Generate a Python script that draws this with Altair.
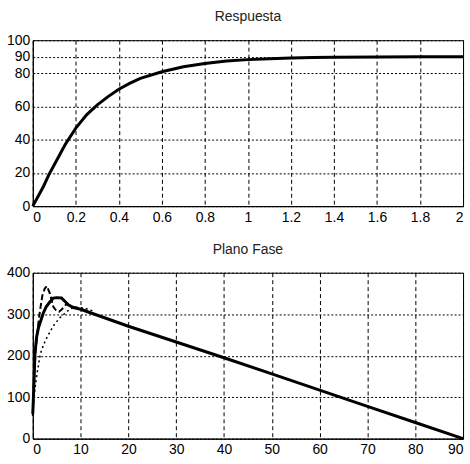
import altair as alt
import pandas as pd

# --- Respuesta (top panel) ---
t_vals = [0, 0.025, 0.05, 0.075, 0.1, 0.15, 0.2, 0.25, 0.3, 0.35, 0.4, 0.45, 0.5,
          0.6, 0.7, 0.8, 0.9, 1.0, 1.1, 1.2, 1.3, 1.4, 1.6, 1.8, 2.0]
resp_vals = [0, 6, 12, 19, 25, 37, 47, 55, 61, 66, 70.5, 74, 77,
             81, 84, 86, 87.5, 88.3, 88.9, 89.3, 89.6, 89.7, 89.9, 90, 90]

# --- Plano Fase (bottom panel) ---
solid_x = [0, 0.2, 0.45, 0.8, 1.2, 1.6, 2.2, 2.8, 3.6, 4.3, 5.0, 6.0, 6.8, 7.5, 8.5,
           10, 20, 30, 40, 50, 60, 70, 80, 90]
solid_y = [60, 120, 205, 245, 268, 282, 303, 318, 330, 339, 340, 339, 330, 322, 316,
           312, 271, 233, 195, 156, 117, 78, 39, 0]

dash_x = [0, 0.3, 0.6, 1.0, 1.5, 2.0, 2.5, 2.95, 3.6, 4.3, 5.0, 5.5, 6.1, 7.0, 7.6, 8.5, 10, 12]
dash_y = [55, 150, 215, 262, 308, 345, 362, 368, 349, 318, 307, 306, 312, 324, 322, 318, 313, 305]

dot_x = [0, 0.2, 0.5, 1.0, 1.6, 2.2, 3.0, 4.3, 5.7, 7.1, 8.0, 9.0, 10, 11, 12, 13]
dot_y = [65, 95, 125, 165, 205, 225, 245, 272, 292, 306, 314, 316, 316, 314, 310, 306]

FONT = "Liberation Sans"

resp_df = pd.DataFrame({"t": t_vals, "y": resp_vals})

top = alt.Chart(resp_df, title=alt.Title("Respuesta", fontSize=14, fontWeight="normal",
                                         font=FONT, color="#222222", offset=9)).mark_line(
    color="black", strokeWidth=3
).encode(
    x=alt.X("t:Q", scale=alt.Scale(domain=[0, 2], nice=False),
            axis=alt.Axis(values=[0, 0.2, 0.4, 0.6, 0.8, 1, 1.2, 1.4, 1.6, 1.8, 2],
                          format="~g", title=None, gridDash=[4, 3])),
    y=alt.Y("y:Q", scale=alt.Scale(domain=[0, 100], nice=False),
            axis=alt.Axis(values=[0, 20, 40, 60, 80, 90, 100], title=None, gridDash=[2, 2])),
).properties(width=433, height=167)

rows = []
for name, xs, ys in [("solid", solid_x, solid_y), ("dash", dash_x, dash_y), ("dot", dot_x, dot_y)]:
    for i, (a, b) in enumerate(zip(xs, ys)):
        rows.append({"series": name, "x": a, "v": b, "order": i})
phase_df = pd.DataFrame(rows)

bx = alt.X("x:Q", scale=alt.Scale(domain=[0, 90], nice=False),
           axis=alt.Axis(values=list(range(0, 91, 10)), title=None, gridDash=[4, 3]))
by = alt.Y("v:Q", scale=alt.Scale(domain=[0, 400], nice=False),
           axis=alt.Axis(values=[0, 100, 200, 300, 400], title=None, gridDash=[2, 2]))

base = alt.Chart(phase_df)
solid = base.transform_filter(alt.datum.series == "solid").mark_line(
    color="black", strokeWidth=3).encode(x=bx, y=by, order="order:Q")
dash = base.transform_filter(alt.datum.series == "dash").mark_line(
    color="black", strokeWidth=2, strokeDash=[6, 3]).encode(x=bx, y=by, order="order:Q")
dot = base.transform_filter(alt.datum.series == "dot").mark_line(
    color="black", strokeWidth=1.5, strokeDash=[2, 3]).encode(x=bx, y=by, order="order:Q")

bottom = alt.layer(solid, dash, dot, title=alt.Title("Plano Fase", fontSize=14, fontWeight="normal",
                                                     font=FONT, color="#222222", offset=9)
                   ).properties(width=433, height=167)

chart = alt.vconcat(top, bottom, spacing=67, bounds="flush").properties(
    padding={"left": 6, "top": 8, "right": 0, "bottom": 3}
).configure_view(
    stroke="black", strokeWidth=1
).configure_axis(
    labelFont=FONT, labelFontSize=14, labelColor="black",
    domain=True, domainColor="black", domainWidth=1,
    ticks=False, labelPadding=4,
    grid=True, gridColor="black", gridWidth=1, gridOpacity=1,
).configure_axisY(labelPadding=3).configure_title(anchor="middle")

chart.save("out.html", embed_options={"renderer": "svg", "actions": False})
